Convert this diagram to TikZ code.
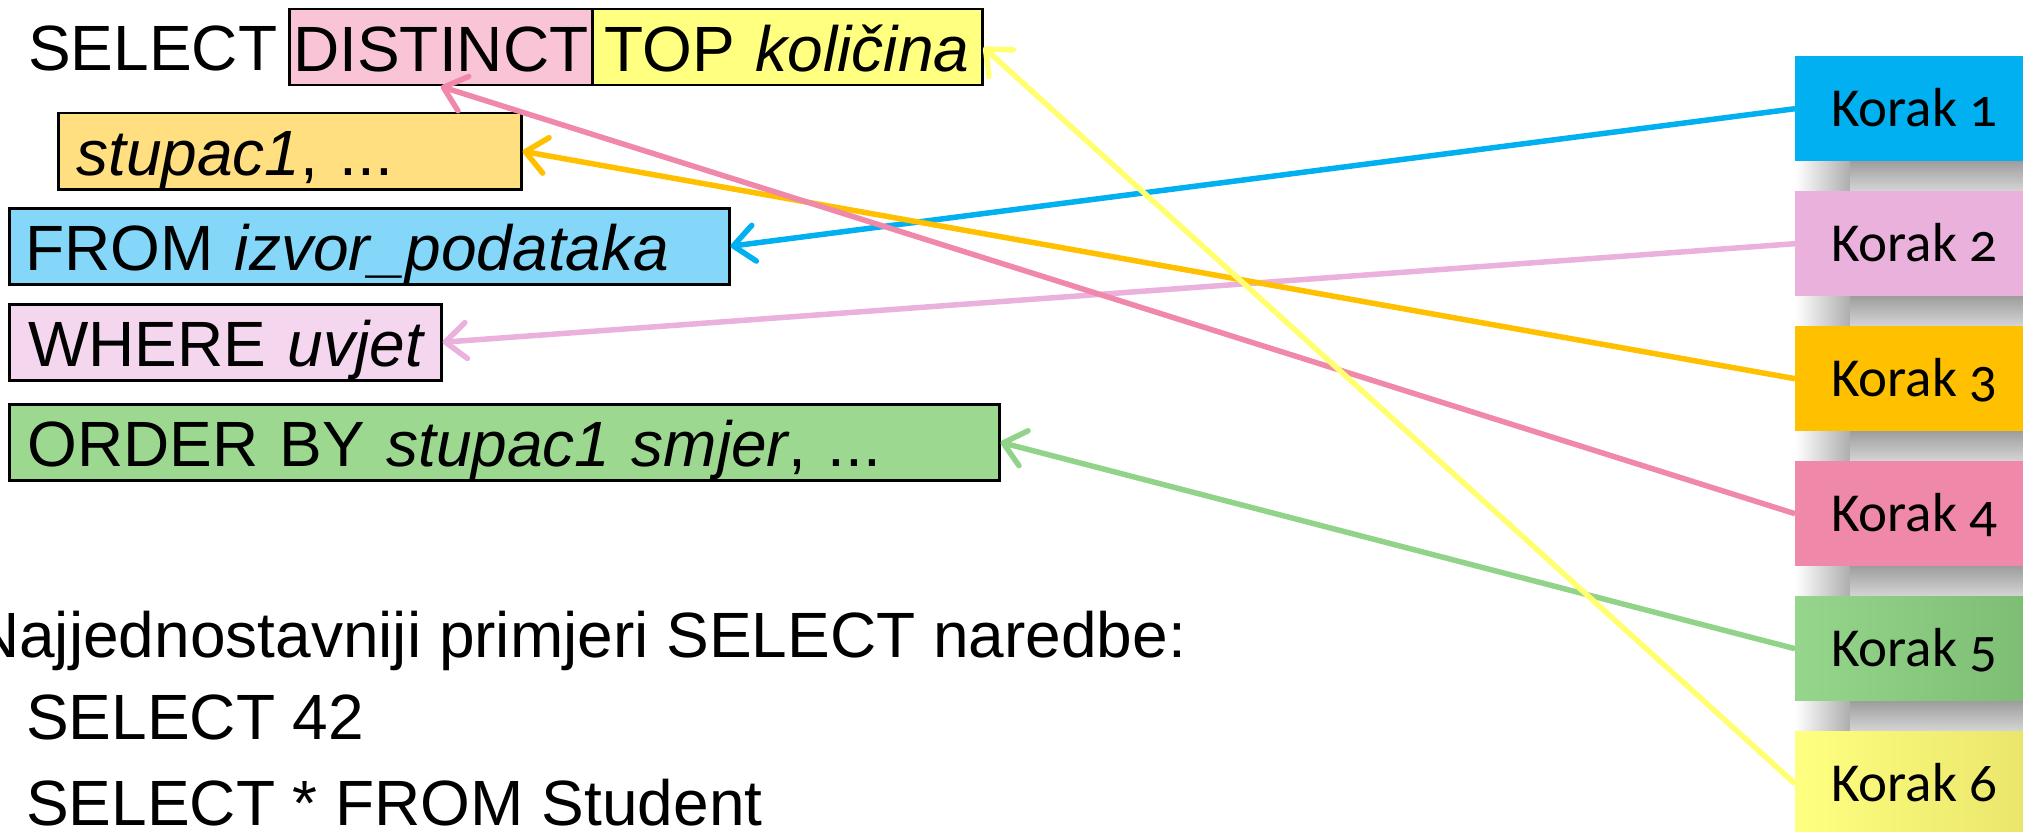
\documentclass[tikz,border=0pt]{standalone}
\usepackage{fontspec}
\setmainfont{Liberation Sans}
\newfontfamily\korakfont[Numbers=OldStyle]{Carlito}
\usepackage{tikz}
\usetikzlibrary{arrows.meta}

\definecolor{k1}{HTML}{00B0F0}
\definecolor{k2}{HTML}{EBB1DD}
\definecolor{k3}{HTML}{FFC000}
\definecolor{k4}{HTML}{F088AA}
\definecolor{k5l}{HTML}{95D68C}
\definecolor{k5r}{HTML}{7EBE74}
\definecolor{k5line}{HTML}{92D38A}
\definecolor{k6l}{HTML}{FFFF80}
\definecolor{k6r}{HTML}{EAE66C}
\definecolor{k6line}{HTML}{FFFF70}
\definecolor{distinctpink}{HTML}{F8C4D6}
\definecolor{topyellow}{HTML}{FFFF80}
\definecolor{colorange}{HTML}{FFDF80}
\definecolor{fromblue}{HTML}{84D7F8}
\definecolor{wherepink}{HTML}{F4D6EE}
\definecolor{ordergreen}{HTML}{9DD891}

\begin{document}
\begin{tikzpicture}[x=1pt, y=-1pt,
		every node/.style={font=\fontsize{64pt}{77pt}\selectfont},
		clause/.style={draw=black, line width=2.5pt, anchor=north west, align=left,
			inner xsep=0pt, inner ysep=1.5pt, text height=61pt, text depth=12pt},
		korak/.style={anchor=north west, minimum width=228pt, minimum height=105pt,
			inner sep=0pt, text height=35pt, text depth=0pt,
			font=\korakfont\fontsize{55pt}{62pt}\selectfont},
		plain/.style={anchor=base west, inner sep=0pt},
		link/.style={line width=5.5pt},
		>={Straight Barb[length=21pt,width=36pt,round]}]
		\useasboundingbox (0,0) rectangle (2023,832);
		
		% the query, one clause per box
		\node[plain] (sel) at (28,71) {SELECT};
		\node[clause, fill=distinctpink, text width=303pt] (distinct) at (288,8) {\hspace*{4pt}DISTINCT};
		\node[clause, fill=topyellow, text width=390pt] (top) at (591,8) {\hspace*{12pt}TOP \textit{količina}};
		\node[clause, fill=colorange, text width=463pt] (cols) at (57,112) {\hspace*{18pt}\textit{stupac1}, ...};
		\node[clause, fill=fromblue, text width=720pt] (from) at (8,207) {\hspace*{16pt}FROM \textit{izvor\_podataka}};
		\node[clause, fill=wherepink, text width=432pt] (where) at (8,303) {\hspace*{19pt}WHERE \textit{uvjet}};
		\node[clause, fill=ordergreen, text width=990pt] (order) at (8,403) {\hspace*{18pt}ORDER BY \textit{stupac1 smjer}, ...};
		
		\node[plain] (intro) at (-27,657) {Najjednostavniji primjeri SELECT naredbe:};
		\node[plain] (ex1) at (26,739) {SELECT 42};
		\node[plain] (ex2) at (26,825) {SELECT * FROM Student};
		
		% steps
		\node[korak, fill=k1] (k1) at (1795,56) {\hspace*{10pt}Korak 1};
		\node[korak, fill=k2] (k2) at (1795,191) {\hspace*{10pt}Korak 2};
		\node[korak, fill=k3] (k3) at (1795,326) {\hspace*{10pt}Korak 3};
		\node[korak, fill=k4] (k4) at (1795,461) {\hspace*{10pt}Korak 4};
		\node[korak, left color=k5l, right color=k5r] (k5) at (1795,596) {\hspace*{10pt}Korak 5};
		\node[korak, left color=k6l, right color=k6r] (k6) at (1795,731) {\hspace*{10pt}Korak 6};
		
		\foreach \k in {k1,k2,k3,k4,k5}{
			\shade[left color=white, right color=black!32] (\k.south west) rectangle ++(55,29);
			\shade[top color=black!38, bottom color=black!17] ([xshift=55pt]\k.south west) rectangle ++(173,29);
		}
		
		\path[->, link]
		(k1.west) edge[color=k1] (from.east)
		(k2.west) edge[color=k2] (where.east)
		(k3.west) edge[color=k3] (cols.east)
		(k4.west) edge[color=k4] (distinct.south)
		(k5.west) edge[color=k5line] (order.east)
		(k6.west) edge[color=k6line] (top.east)
		;
	\end{tikzpicture}
\end{document}
